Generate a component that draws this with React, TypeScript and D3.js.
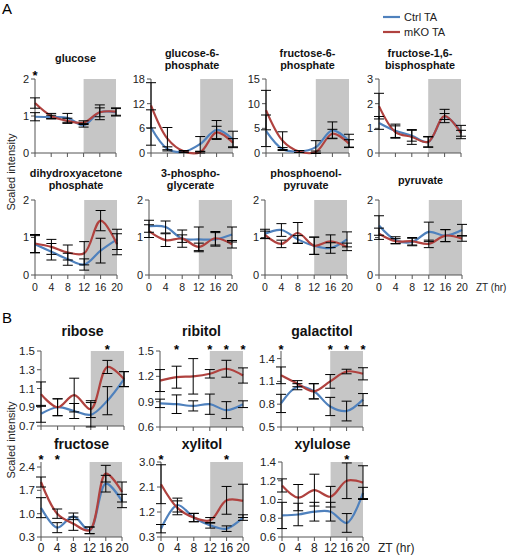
import React from "react";
import * as d3 from "d3";

const hours = [0, 4, 8, 12, 16, 20];

// Panel A
const glucoseCtrl = [0.98, 0.97, 0.95, 0.75, 1.1, 1.1];
const glucoseCtrlErr = [0.11, 0.05, 0.12, 0.05, 0.12, 0.1];
const glucoseKO = [1.35, 1.0, 0.87, 0.82, 1.1, 1.12];
const glucoseKOErr = [0.14, 0.07, 0.07, 0.05, 0.2, 0.1];

const g6pCtrl = [6.2, 1.0, 0.3, 2.2, 5.6, 3.3];
const g6pCtrlErr = [4.3, 0.5, 0.2, 1.8, 2.3, 2.0];
const g6pKO = [11.6, 3.5, 0.4, 0.2, 5.0, 2.5];
const g6pKOErr = [5.5, 2.7, 0.2, 0.2, 1.5, 1.0];

const f6pCtrl = [4.5, 0.8, 0.3, 1.2, 4.6, 2.5];
const f6pCtrlErr = [3.2, 0.3, 0.2, 1.3, 1.7, 1.3];
const f6pKO = [8.7, 2.5, 0.3, 0.2, 3.9, 1.9];
const f6pKOErr = [4.0, 1.8, 0.2, 0.2, 0.9, 0.8];

const f16bpCtrl = [1.22, 0.9, 0.7, 0.45, 1.48, 0.85];
const f16bpCtrlErr = [0.26, 0.27, 0.22, 0.22, 0.12, 0.27];
const f16bpKO = [1.9, 0.85, 0.65, 0.45, 1.5, 0.8];
const f16bpKOErr = [0.52, 0.25, 0.3, 0.2, 0.27, 0.12];

const dhapCtrl = [0.82, 0.62, 0.42, 0.28, 0.65, 0.95];
const dhapCtrlErr = [0.23, 0.22, 0.16, 0.15, 0.33, 0.27];
const dhapKO = [0.84, 0.75, 0.6, 0.58, 1.45, 0.82];
const dhapKOErr = [0.24, 0.2, 0.2, 0.31, 0.27, 0.28];

const pgCtrl = [1.3, 1.28, 0.97, 0.95, 0.95, 1.08];
const pgCtrlErr = [0.16, 0.16, 0.23, 0.33, 0.18, 0.2];
const pgKO = [1.17, 0.93, 0.97, 0.75, 0.98, 0.82];
const pgKOErr = [0.17, 0.17, 0.1, 0.1, 0.18, 0.1];

const pepCtrl = [1.1, 1.2, 0.95, 0.78, 0.72, 0.95];
const pepCtrlErr = [0.12, 0.17, 0.1, 0.23, 0.14, 0.2];
const pepKO = [1.07, 0.83, 1.12, 0.78, 0.9, 0.75];
const pepKOErr = [0.1, 0.1, 0.28, 0.23, 0.17, 0.1];

const pyrCtrl = [1.32, 0.93, 0.88, 1.15, 1.05, 1.2];
const pyrCtrlErr = [0.26, 0.09, 0.1, 0.26, 0.16, 0.15];
const pyrKO = [1.1, 0.9, 0.9, 0.83, 1.05, 0.97];
const pyrKOErr = [0.15, 0.07, 0.1, 0.1, 0.16, 0.07];

// Panel B
const riboseCtrl = [0.83, 0.9, 0.86, 0.82, 0.97, 1.2];
const riboseCtrlErr = [0.09, 0.09, 0.08, 0.13, 0.15, 0.08];
const riboseKO = [1.04, 0.9, 1.03, 0.88, 1.33, 1.2];
const riboseKOErr = [0.13, 0.09, 0.18, 0.09, 0.07, 0.08];

const ribitolCtrl = [0.88, 0.87, 0.85, 0.87, 0.8, 0.87];
const ribitolCtrlErr = [0.05, 0.11, 0.06, 0.12, 0.1, 0.04];
const ribitolKO = [1.15, 1.19, 1.2, 1.23, 1.29, 1.21];
const ribitolKOErr = [0.13, 0.13, 0.21, 0.05, 0.1, 0.09];

const galactitolCtrl = [0.81, 1.03, 0.97, 0.77, 0.71, 0.86];
const galactitolCtrlErr = [0.12, 0.04, 0.1, 0.12, 0.13, 0.08];
const galactitolKO = [1.18, 1.07, 0.97, 1.1, 1.23, 1.2];
const galactitolKOErr = [0.11, 0.04, 0.1, 0.09, 0.03, 0.08];

const fructoseCtrl = [1.18, 0.58, 0.92, 0.5, 1.9, 1.38];
const fructoseCtrlErr = [0.3, 0.15, 0.1, 0.1, 0.25, 0.2];
const fructoseKO = [1.95, 1.0, 0.7, 0.5, 2.2, 1.65];
const fructoseKOErr = [0.15, 0.14, 0.2, 0.1, 0.25, 0.3];

const xylitolCtrl = [0.6, 1.45, 1.0, 0.72, 0.6, 1.0];
const xylitolCtrlErr = [0.15, 0.25, 0.15, 0.1, 0.1, 0.1];
const xylitolKO = [2.2, 1.35, 1.0, 0.9, 1.62, 1.6];
const xylitolKOErr = [0.7, 0.25, 0.15, 0.1, 0.5, 0.6];

const xyluloseCtrl = [0.83, 0.84, 0.87, 0.87, 0.75, 1.07];
const xyluloseCtrlErr = [0.14, 0.12, 0.1, 0.1, 0.1, 0.06];
const xyluloseKO = [1.15, 1.02, 1.1, 1.03, 1.2, 1.18];
const xyluloseKOErr = [0.07, 0.14, 0.17, 0.11, 0.19, 0.18];

const CTRL = "#4F81BD";
const KO = "#B0423F";
const SHADE = "#C6C6C6";
const AXIS = "#555";
const FONT = "Liberation Sans, Arial, sans-serif";

type P = {
  title: string[];
  ctrl: number[]; ctrlErr: number[]; ko: number[]; koErr: number[];
  domain: [number, number]; ticks: number[]; fmt: (v: number) => string;
  stars: number[]; starDy: number;
  left: number; top: number; width: number; height: number;
  big: boolean; xLabels: boolean;
  titleY: number;
};

const fint = (v: number) => d3.format("d")(v);
const f1 = (v: number) => d3.format(".1f")(v);

const panels: P[] = [
  { title: ["glucose"], ctrl: glucoseCtrl, ctrlErr: glucoseCtrlErr, ko: glucoseKO, koErr: glucoseKOErr, domain: [0, 2], ticks: [0, 1, 2], fmt: fint, stars: [0], starDy: 1, left: 35, top: 79, width: 81, height: 74, big: false, xLabels: false, titleY: 58 },
  { title: ["glucose-6-", "phosphate"], ctrl: g6pCtrl, ctrlErr: g6pCtrlErr, ko: g6pKO, koErr: g6pKOErr, domain: [0, 18], ticks: [0, 6, 12, 18], fmt: fint, stars: [], starDy: 1, left: 151, top: 79, width: 82, height: 74, big: false, xLabels: false, titleY: 53 },
  { title: ["fructose-6-", "phosphate"], ctrl: f6pCtrl, ctrlErr: f6pCtrlErr, ko: f6pKO, koErr: f6pKOErr, domain: [0, 15], ticks: [0, 5, 10, 15], fmt: fint, stars: [], starDy: 1, left: 266, top: 79, width: 83, height: 74, big: false, xLabels: false, titleY: 53 },
  { title: ["fructose-1,6-", "bisphosphate"], ctrl: f16bpCtrl, ctrlErr: f16bpCtrlErr, ko: f16bpKO, koErr: f16bpKOErr, domain: [0, 3], ticks: [0, 1, 2, 3], fmt: fint, stars: [], starDy: 1, left: 379, top: 79, width: 82, height: 74, big: false, xLabels: false, titleY: 53 },
  { title: ["dihydroxyacetone", "phosphate"], ctrl: dhapCtrl, ctrlErr: dhapCtrlErr, ko: dhapKO, koErr: dhapKOErr, domain: [0, 2], ticks: [0, 1, 2], fmt: fint, stars: [], starDy: 1, left: 35, top: 200, width: 82, height: 75, big: false, xLabels: true, titleY: 173 },
  { title: ["3-phospho-", "glycerate"], ctrl: pgCtrl, ctrlErr: pgCtrlErr, ko: pgKO, koErr: pgKOErr, domain: [0, 2], ticks: [0, 1, 2], fmt: fint, stars: [], starDy: 1, left: 149, top: 200, width: 83, height: 75, big: false, xLabels: true, titleY: 173 },
  { title: ["phosphoenol-", "pyruvate"], ctrl: pepCtrl, ctrlErr: pepCtrlErr, ko: pepKO, koErr: pepKOErr, domain: [0, 2], ticks: [0, 1, 2], fmt: fint, stars: [], starDy: 1, left: 265, top: 200, width: 82, height: 75, big: false, xLabels: true, titleY: 173 },
  { title: ["pyruvate"], ctrl: pyrCtrl, ctrlErr: pyrCtrlErr, ko: pyrKO, koErr: pyrKOErr, domain: [0, 2], ticks: [0, 1, 2], fmt: fint, stars: [], starDy: 1, left: 379, top: 200, width: 83, height: 75, big: false, xLabels: true, titleY: 180 },
  { title: ["ribose"], ctrl: riboseCtrl, ctrlErr: riboseCtrlErr, ko: riboseKO, koErr: riboseKOErr, domain: [0.7, 1.5], ticks: [0.7, 0.9, 1.1, 1.3, 1.5], fmt: f1, stars: [16], starDy: 3, left: 41, top: 351, width: 83, height: 75, big: true, xLabels: false, titleY: 331 },
  { title: ["ribitol"], ctrl: ribitolCtrl, ctrlErr: ribitolCtrlErr, ko: ribitolKO, koErr: ribitolKOErr, domain: [0.6, 1.5], ticks: [0.6, 0.9, 1.2, 1.5], fmt: f1, stars: [4, 12, 16, 20], starDy: 3, left: 160, top: 351, width: 83, height: 76, big: true, xLabels: false, titleY: 331 },
  { title: ["galactitol"], ctrl: galactitolCtrl, ctrlErr: galactitolCtrlErr, ko: galactitolKO, koErr: galactitolKOErr, domain: [0.5, 1.5], ticks: [0.5, 0.8, 1.1, 1.4], fmt: f1, stars: [0, 12, 16, 20], starDy: 3, left: 281, top: 351, width: 82, height: 76, big: true, xLabels: false, titleY: 331 },
  { title: ["fructose"], ctrl: fructoseCtrl, ctrlErr: fructoseCtrlErr, ko: fructoseKO, koErr: fructoseKOErr, domain: [0.3, 2.55], ticks: [0.3, 1.0, 1.7, 2.4], fmt: f1, stars: [0, 4], starDy: 2, left: 41, top: 462, width: 81, height: 75, big: true, xLabels: true, titleY: 444 },
  { title: ["xylitol"], ctrl: xylitolCtrl, ctrlErr: xylitolCtrlErr, ko: xylitolKO, koErr: xylitolKOErr, domain: [0.3, 3.0], ticks: [0.3, 1.2, 2.1, 3.0], fmt: f1, stars: [0, 16], starDy: 2, left: 161, top: 462, width: 82, height: 75, big: true, xLabels: true, titleY: 444 },
  { title: ["xylulose"], ctrl: xyluloseCtrl, ctrlErr: xyluloseCtrlErr, ko: xyluloseKO, koErr: xyluloseKOErr, domain: [0.6, 1.4], ticks: [0.6, 0.8, 1.0, 1.2, 1.4], fmt: f1, stars: [16], starDy: 2, left: 282, top: 462, width: 81, height: 75, big: true, xLabels: true, titleY: 444 },
];

function Panel({ p }: { p: P }) {
  const x = d3.scaleLinear().domain([0, 20]).range([p.left, p.left + p.width]);
  const y = d3.scaleLinear().domain(p.domain).range([p.top + p.height, p.top]);
  const bottom = p.top + p.height;
  const line = d3.line<number>()
    .x((_, i) => x(hours[i]))
    .y((v) => y(v))
    .curve(d3.curveCatmullRom.alpha(0.5));
  const tickFs = p.big ? 11.5 : 11;
  const titleFs = p.big ? 14 : 10.8;
  const cap = 5;
  const bars = (vals: number[], errs: number[]) =>
    vals.map((v, i) => {
      const cx = x(hours[i]);
      const y1 = y(v + errs[i]);
      const y2 = y(v - errs[i]);
      return (
        <g key={i} stroke="#000" strokeWidth={1}>
          <line x1={cx} x2={cx} y1={y1} y2={y2} />
          <line x1={cx - cap} x2={cx + cap} y1={y1} y2={y1} />
          <line x1={cx - cap} x2={cx + cap} y1={y2} y2={y2} />
        </g>
      );
    });
  return (
    <g>
      <rect x={x(12)} y={p.top} width={x(20) - x(12)} height={p.height} fill={SHADE} />
      <line x1={p.left} x2={p.left} y1={p.top} y2={bottom} stroke={AXIS} strokeWidth={1} />
      {p.ticks.map((t) => (
        <g key={t}>
          <line x1={p.left - 4} x2={p.left} y1={y(t)} y2={y(t)} stroke={AXIS} />
          <text x={p.left - 6} y={y(t)} dy="0.35em" textAnchor="end" fontSize={tickFs} fontFamily={FONT} fill="#222">{p.fmt(t)}</text>
        </g>
      ))}
      <line x1={p.left} x2={p.left + p.width} y1={bottom} y2={bottom} stroke={AXIS} strokeWidth={1} />
      {hours.map((h) => (
        <g key={h}>
          <line x1={x(h)} x2={x(h)} y1={bottom} y2={bottom + 4} stroke={AXIS} />
          {p.xLabels && (
            <text x={x(h)} y={bottom + (p.big ? 11 : 12)} dy="0.35em" textAnchor="middle" fontSize={p.big ? 12 : 10.5} fontFamily={FONT} fill="#222">{h}</text>
          )}
        </g>
      ))}
      <path d={line(p.ctrl) || ""} fill="none" stroke={CTRL} strokeWidth={2.2} />
      <path d={line(p.ko) || ""} fill="none" stroke={KO} strokeWidth={2.2} />
      {bars(p.ctrl, p.ctrlErr)}
      {bars(p.ko, p.koErr)}
      {p.stars.map((s) => (
        <text key={s} x={x(s)} y={p.top + p.starDy} textAnchor="middle" fontSize={13} fontWeight="bold" fontFamily={FONT}>*</text>
      ))}
      {p.title.map((t, i) => (
        <text key={i} x={p.left + p.width / 2} y={p.titleY + i * 12} dy="0.35em" textAnchor="middle" fontSize={titleFs} fontWeight="bold" fontFamily={FONT} fill="#111">{t}</text>
      ))}
    </g>
  );
}

export default function App() {
  return (
    <svg width={508} height={557} style={{ position: "absolute", left: 0, top: 0, background: "#fff" }}>
      <rect width={508} height={557} fill="#fff" />
      <text x={2} y={14} fontSize={15} fontFamily={FONT}>A</text>
      <text x={2} y={323} fontSize={15} fontFamily={FONT}>B</text>
      <text transform="translate(15,172) rotate(-90)" textAnchor="middle" fontSize={11} fontFamily={FONT} fill="#222">Scaled intensity</text>
      <text transform="translate(15,440) rotate(-90)" textAnchor="middle" fontSize={11} fontFamily={FONT} fill="#222">Scaled intensity</text>
      <line x1={383} x2={400} y1={17} y2={17} stroke={CTRL} strokeWidth={2.2} />
      <text x={404} y={17} dy="0.35em" fontSize={11} fontFamily={FONT} fill="#222">Ctrl TA</text>
      <line x1={383} x2={400} y1={32} y2={32} stroke={KO} strokeWidth={2.2} />
      <text x={404} y={32} dy="0.35em" fontSize={11} fontFamily={FONT} fill="#222">mKO TA</text>
      {panels.map((p, i) => <Panel key={i} p={p} />)}
      <text x={476} y={287} dy="0.35em" fontSize={10} fontFamily={FONT} fill="#222">ZT (hr)</text>
      <text x={378} y={548} dy="0.35em" fontSize={12} fontFamily={FONT} fill="#222">ZT (hr)</text>
    </svg>
  );
}
